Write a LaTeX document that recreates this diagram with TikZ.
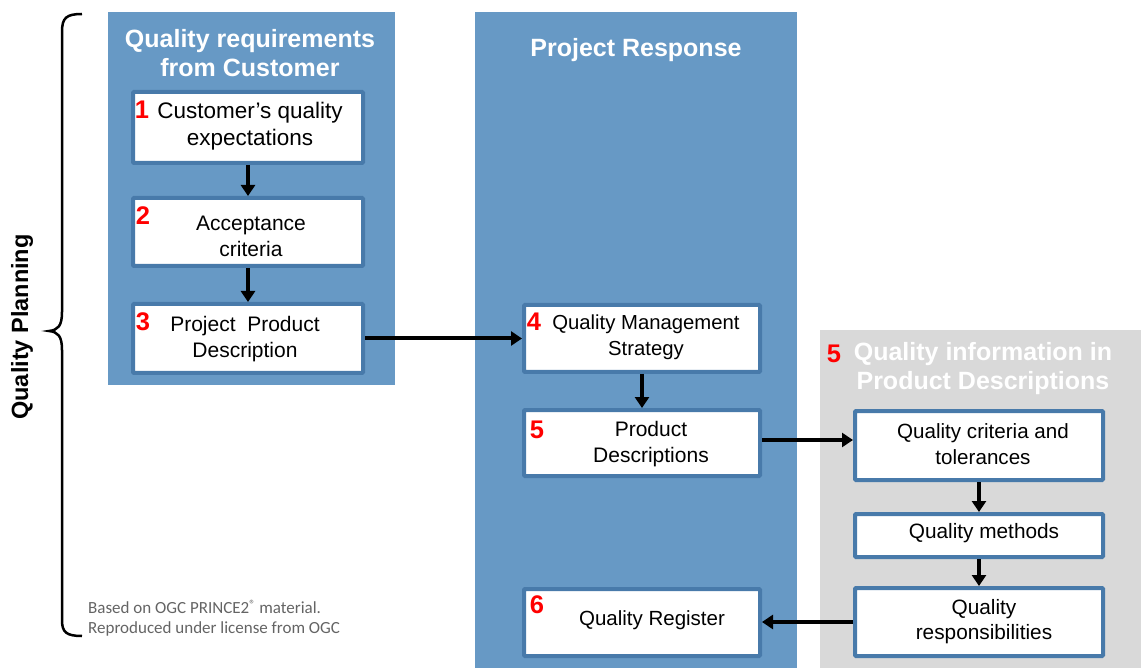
\documentclass[tikz,border=0pt]{standalone}
\usepackage{fontspec}
\setmainfont{Liberation Sans}
\newfontfamily\footfont{Carlito}
\usetikzlibrary{arrows.meta}
\definecolor{panelblue}{RGB}{103,153,197}
\definecolor{boxline}{RGB}{72,122,170}
\definecolor{panelgray}{RGB}{217,217,217}
\definecolor{numred}{RGB}{255,0,0}
\definecolor{footgray}{RGB}{100,100,100}
\tikzset{
  qbox/.style={draw=boxline, line width=4pt, fill=white, inner sep=0pt, outer sep=2pt, rounded corners=1pt},
  qtext/.style={align=center, inner sep=0pt, font=\fontsize{21}{26}\selectfont},
  qtitle/.style={align=center, inner sep=0pt, text=white, font=\bfseries\fontsize{25}{29}\selectfont},
  qnum/.style={inner sep=0pt, text=numred, font=\bfseries\fontsize{25.5}{26}\selectfont},
  qarrow/.style={line width=4pt, -{Triangle[length=11pt,width=14pt]}},
  foot/.style={anchor=west, inner sep=0pt, text=footgray, font=\footfont\fontsize{17}{19}\selectfont}
}
\begin{document}
\begin{tikzpicture}[x=1pt,y=-1pt]
\useasboundingbox (0,0) rectangle (1141,668);
% panels
\fill[panelblue] (108,12) rectangle (395,385);
\fill[panelblue] (475,12) rectangle (797,668);
\fill[panelgray] (820,330) rectangle (1141,668);
% brace
\draw[line width=2.5pt] (82,14) .. controls (66,14) and (62,18) .. (62,32) -- (62,312)
  .. controls (62,326) and (58,330) .. (49,331) .. controls (58,332) and (62,336) .. (62,350)
  -- (62,620) .. controls (62,632) and (66,636) .. (82,636);
\node[rotate=90, inner sep=0pt, font=\bfseries\fontsize{23.5}{26}\selectfont] (qp) at (22,327) {Quality Planning};
% titles
\node[qtitle] (title1) at (250,53) {Quality requirements\\from Customer};
\node[qtitle] (title2) at (636,50) {Project Response};
\node[qtitle] (title3) at (983,369) {Quality information in\\Product Descriptions};
\node[qnum] (n5b) at (834,354) {5};
% boxes
\node[qbox, minimum width=230pt, minimum height=71pt] (b1) at (248,127.5) {};
\node[qbox, minimum width=230pt, minimum height=68pt] (b2) at (248,232) {};
\node[qbox, minimum width=230pt, minimum height=69pt] (b3) at (248,338.5) {};
\node[qbox, minimum width=236pt, minimum height=67pt] (b4) at (642,338.5) {};
\node[qbox, minimum width=236pt, minimum height=66pt] (b5) at (642,443) {};
\node[qbox, minimum width=236pt, minimum height=67pt] (b6) at (642,622.5) {};
\node[qbox, minimum width=248pt, minimum height=69pt] (bqc) at (979,445.5) {};
\node[qbox, minimum width=248pt, minimum height=43pt] (bqm) at (979,535.5) {};
\node[qbox, minimum width=248pt, minimum height=68pt] (bqr) at (979,622) {};
% box texts
\node[qtext, font=\fontsize{22.5}{27}\selectfont] (t1) at (250,126) {Customer’s quality\\expectations};
\node[qtext] (t2) at (251,236) {Acceptance\\criteria};
\node[qtext] (t3) at (245,339.5) {Project\ \ Product\\Description};
\node[qtext, font=\fontsize{20.3}{26}\selectfont] (t4) at (646,337.5) {Quality Management\\Strategy};
\node[qtext] (t5) at (651,444.5) {Product\\Descriptions};
\node[qtext, font=\fontsize{20.5}{26}\selectfont] (t6) at (652,620.5) {Quality Register};
\node[qtext, font=\fontsize{20.6}{26}\selectfont] (tqc) at (983,444.5) {Quality criteria and\\tolerances};
\node[qtext, font=\fontsize{20.8}{26}\selectfont] (tqm) at (984,533.5) {Quality methods};
\node[qtext, font=\fontsize{20.8}{25}\selectfont] (tqr) at (984,621.5) {Quality\\responsibilities};
% numbers
\node[qnum] (n1) at (142,110) {1};
\node[qnum] (n2) at (143,216) {2};
\node[qnum] (n3) at (143,322) {3};
\node[qnum] (n4) at (534,322) {4};
\node[qnum] (n5) at (537,430) {5};
\node[qnum] (n6) at (537,605) {6};
% arrows
\draw[qarrow] (b1.south) -- (b2.north);
\draw[qarrow] (b2.south) -- (b3.north);
\draw[qarrow] (b3.east) -- (b3.east -| b4.west);
\draw[qarrow] (b4.south) -- (b5.north);
\draw[qarrow] ([yshift=3pt]b5.east) -- ([yshift=3pt]b5.east -| bqc.west);
\draw[qarrow] (bqc.south) -- (bqm.north);
\draw[qarrow] (bqm.south) -- (bqr.north);
\draw[qarrow] (bqr.west) -- (bqr.west -| b6.east);
% footer
\node[foot] (f1) at (88,607) {Based on OGC PRINCE2\raisebox{0.3em}{\fontsize{12}{12}\selectfont ®} material.};
\node[foot] (f2) at (88,629) {Reproduced under license from OGC};
\end{tikzpicture}
\end{document}
